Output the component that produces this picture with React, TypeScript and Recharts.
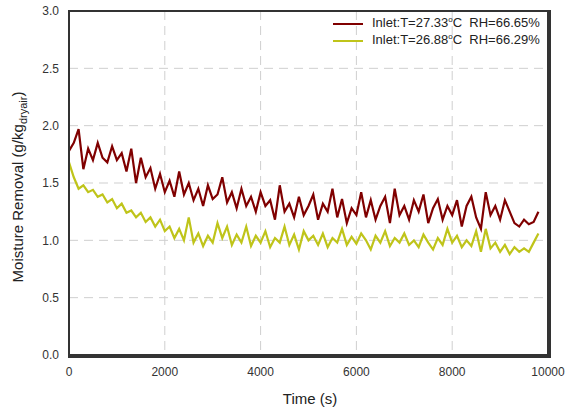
import * as R from "recharts";
import { CartesianGrid, Line, LineChart, XAxis, YAxis } from "recharts";

const times = Array.from({ length: 99 }, (_, i) => i * 100);

const run1 = [
  1.78, 1.85, 1.97, 1.62, 1.8, 1.7, 1.85, 1.72, 1.68, 1.82,
  1.7, 1.76, 1.6, 1.8, 1.5, 1.72, 1.55, 1.63, 1.45, 1.58,
  1.42, 1.52, 1.38, 1.6, 1.4, 1.5, 1.35, 1.45, 1.3, 1.48,
  1.36, 1.4, 1.55, 1.33, 1.42, 1.28, 1.45, 1.3, 1.38, 1.25,
  1.42, 1.3, 1.35, 1.18, 1.48, 1.25, 1.32, 1.2, 1.38, 1.22,
  1.3, 1.4, 1.18, 1.32, 1.25, 1.45, 1.2, 1.36, 1.15, 1.28,
  1.22, 1.42, 1.2, 1.35, 1.18, 1.3, 1.38, 1.15, 1.45, 1.22,
  1.3, 1.18, 1.35, 1.25, 1.4, 1.15, 1.28, 1.36, 1.18, 1.3,
  1.22, 1.35, 1.12, 1.3, 1.38, 1.2, 1.1, 1.42, 1.22, 1.3,
  1.18, 1.35, 1.25, 1.15, 1.12, 1.18, 1.14, 1.16, 1.25,
];

const run2 = [
  1.68, 1.55, 1.45, 1.48, 1.42, 1.44, 1.38, 1.4, 1.33, 1.36,
  1.28, 1.32, 1.24, 1.26, 1.2, 1.24, 1.16, 1.2, 1.12, 1.18,
  1.08, 1.12, 1.02, 1.1, 1.0, 1.2, 0.98, 1.06, 0.95, 1.04,
  0.98, 1.15, 1.02, 1.12, 0.96, 1.05, 0.98, 1.12, 0.95, 1.04,
  0.98, 1.08, 0.94, 1.02, 0.98, 1.12, 0.96, 1.05, 0.92, 1.08,
  1.0, 1.04, 0.96, 1.06, 0.94, 1.02, 0.98, 1.1, 0.96, 1.03,
  0.97, 1.06, 1.0, 0.92, 1.04, 0.98, 1.08, 0.95, 1.02, 0.98,
  1.06, 0.96, 1.0, 0.94, 1.05, 0.98, 0.92, 1.02, 0.96, 1.1,
  0.98, 1.04, 0.94, 1.0, 0.95, 1.08, 0.9, 1.1, 0.93, 0.98,
  0.9, 0.96, 0.88, 0.94, 0.9, 0.93, 0.9, 0.98, 1.06,
];

const xTicks = [0, 2000, 4000, 6000, 8000, 10000];
const yTicks = [0, 0.5, 1.0, 1.5, 2.0, 2.5, 3.0];

const series = [
  { key: "run1", temp: "27.33", rh: "66.65%", color: "#800000" },
  { key: "run2", temp: "26.88", rh: "66.29%", color: "#bfc41a" },
];

const data = times.map((t, i) => ({ t, run1: run1[i], run2: run2[i] }));

const font = "Arial, 'Liberation Sans', sans-serif";
const frame = { stroke: "#333", strokeWidth: 2 };

// plot box, same as margin + axis sizes given to the chart
const plot = { x: 69, y: 11, width: 479, height: 344 };

const usePlot = (R as any).usePlotArea ?? (() => plot);

const PlotFrame = () => {
  const area = usePlot() ?? plot;
  return (
    <rect
      x={area.x}
      y={area.y}
      width={area.width}
      height={area.height}
      fill="none"
      stroke="#333"
      strokeWidth={2}
    />
  );
};

export default function App() {
  return (
    <div style={{ position: "absolute", left: 0, top: 0, width: 566, height: 411 }}>
      <LineChart
        width={566}
        height={411}
        data={data}
        margin={{ top: 11, right: 18, bottom: 16, left: 24 }}
      >
        <CartesianGrid stroke="#cfcfcf" strokeDasharray="9 6" />
        <XAxis
          dataKey="t"
          type="number"
          domain={[0, 10000]}
          ticks={xTicks}
          height={40}
          axisLine={frame}
          tickLine={false}
          tickMargin={6}
          tick={{ fontSize: 12, fill: "#333", fontFamily: font }}
        />
        <YAxis
          type="number"
          domain={[0, 3]}
          ticks={yTicks}
          width={45}
          axisLine={frame}
          tickLine={false}
          tickMargin={4}
          tickFormatter={(v: number) => v.toFixed(1)}
          tick={{ fontSize: 12, fill: "#333", fontFamily: font }}
        />
        {series.map((s) => (
          <Line
            key={s.key}
            dataKey={s.key}
            stroke={s.color}
            strokeWidth={2.2}
            dot={false}
            type="linear"
            isAnimationActive={false}
          />
        ))}
        <PlotFrame />
        <text
          x={310}
          y={404}
          textAnchor="middle"
          fontSize={15}
          fill="#222"
          fontFamily={font}
        >
          Time (s)
        </text>
        <text
          x={23}
          y={187}
          transform="rotate(-90 23 187)"
          textAnchor="middle"
          fontSize={15}
          fill="#222"
          fontFamily={font}
        >
          <tspan>Moisture Removal (g/kg</tspan>
          <tspan fontSize={11} dy={4}>dryair</tspan>
          <tspan dy={-4}>)</tspan>
        </text>
      </LineChart>
      {/* border drawn in HTML as well, in case the svg frame is skipped */}
      <div
        style={{
          position: "absolute",
          left: plot.x - 1,
          top: plot.y - 1,
          width: plot.width,
          height: plot.height,
          border: "2px solid #333",
          pointerEvents: "none",
        }}
      />
      <div
        style={{
          position: "absolute",
          top: 15,
          left: 333,
          fontFamily: font,
          fontSize: 13,
          color: "#222",
          lineHeight: "17px",
        }}
      >
        {series.map((s) => (
          <div key={s.key} style={{ display: "flex", alignItems: "center", whiteSpace: "nowrap", height: 17 }}>
            <span
              style={{
                display: "inline-block",
                width: 30,
                height: 2,
                background: s.color,
                marginRight: 9,
              }}
            />
            <span>
              Inlet:T={s.temp}
              <span style={{ fontSize: 8, position: "relative", top: -5 }}>o</span>C&nbsp; RH={s.rh}
            </span>
          </div>
        ))}
      </div>
    </div>
  );
}
